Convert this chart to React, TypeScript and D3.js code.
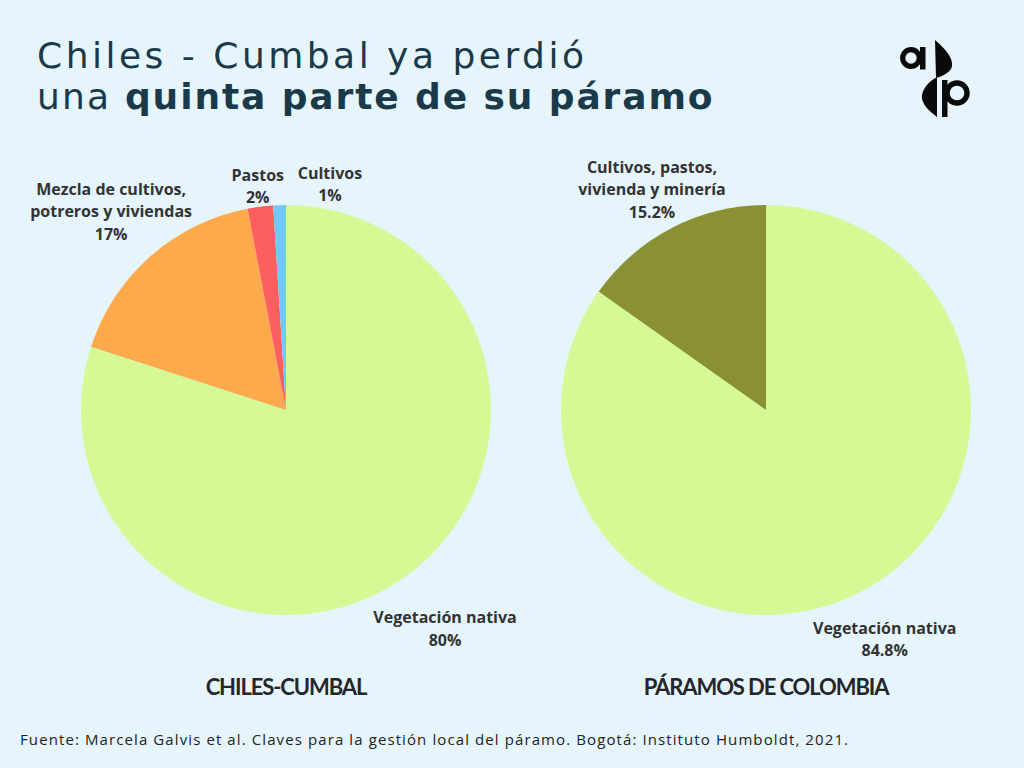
import React from "react";
import * as d3 from "d3";

const W = 1024;
const H = 768;

const chilesLabels = ["Vegetación nativa", "Mezcla de cultivos, potreros y viviendas", "Pastos", "Cultivos"];
const chilesValues = [80, 17, 2, 1];
const chilesText = [["Vegetación nativa", "80%"], ["Mezcla de cultivos,", "potreros y viviendas", "17%"], ["Pastos", "2%"], ["Cultivos", "1%"]];
const chilesColors = ["#d4f995", "#fdaa4c", "#fd5e5e", "#72c9f3"];
const chilesLabelRadius = [1.32, 1.29, 1.1, 1.1];
const chilesLabelShift = [0, 0, 0, 51];

const colombiaLabels = ["Vegetación nativa", "Cultivos, pastos, vivienda y minería"];
const colombiaValues = [84.8, 15.2];
const colombiaText = [["Vegetación nativa", "84.8%"], ["Cultivos, pastos,", "vivienda y minería", "15.2%"]];
const colombiaColors = ["#d4f995", "#8a9133"];
const colombiaLabelRadius = [1.26, 1.21];
const colombiaLabelShift = [0, 0];

const pieTitles = ["CHILES-CUMBAL", "PÁRAMOS DE COLOMBIA"];

const R = 205;

function Pie({ cx, cy, values, colors, texts, radii, shifts, title, names }) {
  const pie = d3.pie<number>().sort(null).value((d) => d);
  const arcs = pie(values);
  const arc = d3.arc<d3.PieArcDatum<number>>().innerRadius(0).outerRadius(R);
  return (
    <g transform={`translate(${cx},${cy})`}>
      {arcs.map((a, i) => (
        <path key={names[i]} d={arc(a) || ""} fill={colors[i]} />
      ))}
      {arcs.map((a, i) => {
        const mid = (a.startAngle + a.endAngle) / 2;
        const r = R * radii[i];
        const x = Math.sin(mid) * r + shifts[i];
        const y = -Math.cos(mid) * r;
        const lines = texts[i];
        const lh = 22.5;
        const y0 = y - ((lines.length - 1) * lh) / 2;
        return (
          <text key={"t" + i} x={x} textAnchor="middle" fontFamily="'Open Sans', sans-serif" fontWeight={700} fontSize={16} fill="#333333">
            {lines.map((l, j) => (
              <tspan key={j} x={x} y={y0 + j * lh} dy="0.35em">{l}</tspan>
            ))}
          </text>
        );
      })}
      <text x={0} y={R + 80} textAnchor="middle" fontFamily="Lato, sans-serif" fontWeight={700} fontSize={22} letterSpacing={-1.1} fill="#25262b">
        {title}
      </text>
    </g>
  );
}

export default function App() {
  return (
    <svg width={W} height={H} style={{ position: "absolute", left: 0, top: 0 }}>
      <rect width={W} height={H} fill="#e6f5fc" />
      <text x={37} y={68} fontFamily="'DejaVu Sans', sans-serif" fontWeight={400} fontSize={36} letterSpacing={3.5} fill="#1a3a4a">
        Chiles - Cumbal ya perdió
      </text>
      <text x={37} y={109} fontFamily="'DejaVu Sans', sans-serif" fontWeight={400} fontSize={36} letterSpacing={2.2} fill="#1a3a4a">
        una <tspan fontWeight={700} letterSpacing={1.9}>quinta parte de su páramo</tspan>
      </text>
      <g fill="#0a0a0a">
        <circle cx={911} cy={58} r={8.3} fill="none" stroke="#0a0a0a" strokeWidth={5.2} />
        <rect x={920} y={47} width={5.5} height={22.5} />
        <path d="M935,40 C945,49 953,57 952,66 C951,72 943,76 936,78 Z" />
        <path d="M937,77 C928,82 921,90 922,99 C924,107 931,112 937,117 Z" />
        <circle cx={957} cy={93} r={10} fill="none" stroke="#0a0a0a" strokeWidth={5.4} />
        <rect x={942} y={80} width={5.5} height={37} />
      </g>
      <Pie cx={286} cy={410} values={chilesValues} colors={chilesColors} texts={chilesText} radii={chilesLabelRadius} shifts={chilesLabelShift} title={pieTitles[0]} names={chilesLabels} />
      <Pie cx={766} cy={410} values={colombiaValues} colors={colombiaColors} texts={colombiaText} radii={colombiaLabelRadius} shifts={colombiaLabelShift} title={pieTitles[1]} names={colombiaLabels} />
      <text x={20} y={745} fontFamily="'Open Sans', sans-serif" fontSize={15} letterSpacing={1.1} fill="#222">
        Fuente: Marcela Galvis et al. Claves para la gestión local del páramo. Bogotá: Instituto Humboldt, 2021.
      </text>
    </svg>
  );
}
